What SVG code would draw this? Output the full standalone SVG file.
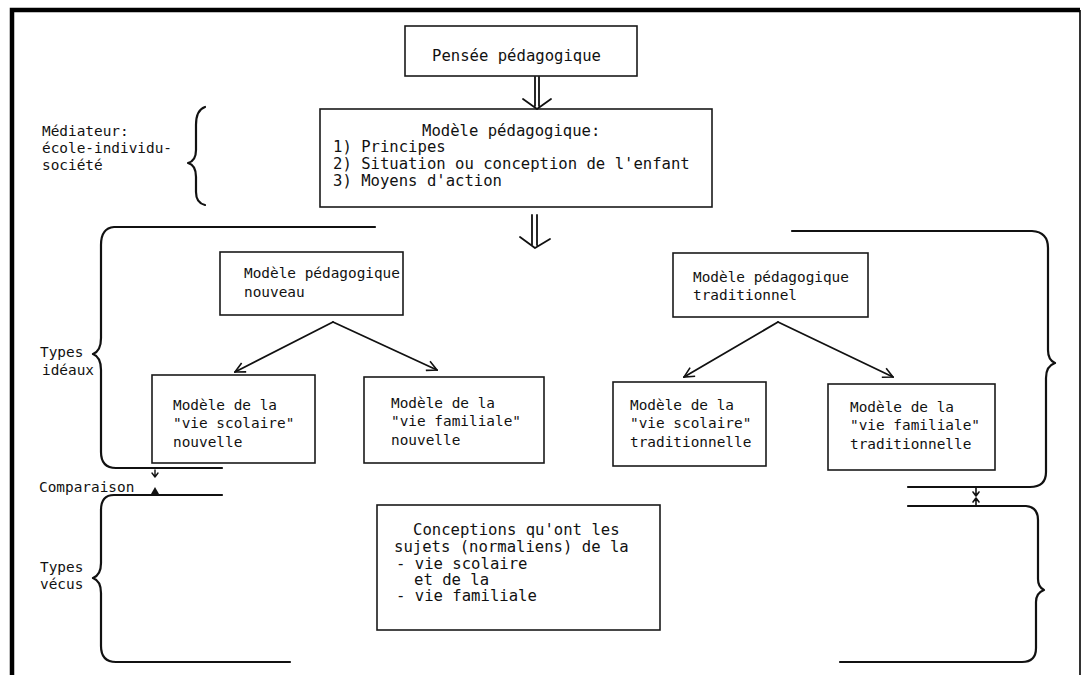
<svg xmlns="http://www.w3.org/2000/svg" width="1082" height="675" viewBox="0 0 1082 675">
<defs>
<style>
.box{fill:#fff;stroke:#1a1a1a;stroke-width:1.6}
.t{font-family:"DejaVu Sans Mono","Liberation Mono",monospace;fill:#111}
.big{font-size:15.6px}
.sm{font-size:14.4px}
.ln{fill:none;stroke:#111;stroke-width:1.8;stroke-linecap:round;stroke-linejoin:round}
.br{fill:none;stroke:#111;stroke-width:2.2;stroke-linecap:round;stroke-linejoin:round}
</style>
<marker id="open" viewBox="0 0 12 12" refX="11" refY="6" markerWidth="12" markerHeight="12" markerUnits="userSpaceOnUse" orient="auto">
<path d="M1,1 L11,6 L1,11" fill="none" stroke="#111" stroke-width="1.6"/>
</marker>
</defs>
<rect width="1082" height="675" fill="#fff"/>
<g id="frame">
<path d="M12,675 V10 H1080" fill="none" stroke="#000" stroke-width="4.5"/>
<line x1="1080" y1="10" x2="1080" y2="675" stroke="#000" stroke-width="1.6"/>
</g>

<g id="pensee">
<rect class="box" x="405" y="26" width="232" height="50"/>
<text class="t big" x="432" y="61">Pensée pédagogique</text>
</g>

<g id="modele">
<rect class="box" x="320" y="109" width="392" height="98"/>
<text class="t big" x="422" y="136">Modèle pédagogique:</text>
<text class="t big" x="333" y="152">1) Principes</text>
<text class="t big" x="333" y="169">2) Situation ou conception de l'enfant</text>
<text class="t big" x="333" y="186">3) Moyens d'action</text>
</g>

<g id="mediateur">
<text class="t sm" x="42" y="136">Médiateur:</text>
<text class="t sm" x="42" y="153">école-individu-</text>
<text class="t sm" x="42" y="170">société</text>
<path class="br" d="M205,107 Q196,110 196,125 V150 Q196,161 188,163 Q196,165 196,177 V192 Q196,203 205,205"/>
</g>

<g id="types-ideaux-label">
<text class="t sm" x="40" y="357">Types</text>
<text class="t sm" x="42" y="375">idéaux</text>
</g>

<g id="nouveau">
<rect class="box" x="220" y="252" width="183" height="63"/>
<text class="t sm" x="244" y="278">Modèle pédagogique</text>
<text class="t sm" x="244" y="297">nouveau</text>
</g>

<g id="scolaire-nouvelle">
<rect class="box" x="152" y="375" width="163" height="88"/>
<text class="t sm" x="173" y="410">Modèle de la</text>
<text class="t sm" x="173" y="428">"vie scolaire"</text>
<text class="t sm" x="173" y="447">nouvelle</text>
</g>

<g id="familiale-nouvelle">
<rect class="box" x="364" y="377" width="180" height="86"/>
<text class="t sm" x="391" y="408">Modèle de la</text>
<text class="t sm" x="391" y="426">"vie familiale"</text>
<text class="t sm" x="391" y="445">nouvelle</text>
</g>

<g id="traditionnel">
<rect class="box" x="673" y="253" width="195" height="64"/>
<text class="t sm" x="693" y="282">Modèle pédagogique</text>
<text class="t sm" x="693" y="300">traditionnel</text>
</g>

<g id="scolaire-trad">
<rect class="box" x="613" y="382" width="153" height="84"/>
<text class="t sm" x="630" y="410">Modèle de la</text>
<text class="t sm" x="630" y="428">"vie scolaire"</text>
<text class="t sm" x="630" y="447">traditionnelle</text>
</g>

<g id="familiale-trad">
<rect class="box" x="828" y="384" width="167" height="86"/>
<text class="t sm" x="850" y="412">Modèle de la</text>
<text class="t sm" x="850" y="430">"vie familiale"</text>
<text class="t sm" x="850" y="449">traditionnelle</text>
</g>

<g id="comparaison-label">
<text class="t sm" x="39" y="492">Comparaison</text>
</g>

<g id="types-vecus-label">
<text class="t sm" x="40" y="572">Types</text>
<text class="t sm" x="40" y="589">vécus</text>
</g>

<g id="conceptions">
<rect class="box" x="377" y="505" width="283" height="125"/>
<text class="t big" x="413" y="535">Conceptions qu'ont les</text>
<text class="t big" x="394" y="552">sujets (normaliens) de la</text>
<text class="t big" x="396" y="569">- vie scolaire</text>
<text class="t big" x="414" y="585">et de la</text>
<text class="t big" x="396" y="601">- vie familiale</text>
</g>

<g id="connectors">
<path class="ln" d="M535,77 V106 M539,77 V106 M523,99 L537,109 L551,99"/>
<path class="ln" d="M532,215 V245 M537,215 V245 M520,237 L535,248 L550,239"/>
<path class="ln" d="M333,322 L235,372" marker-end="url(#open)"/>
<path class="ln" d="M333,322 L437,370" marker-end="url(#open)"/>
<path class="ln" d="M778,322 L684,377" marker-end="url(#open)"/>
<path class="ln" d="M778,322 L893,377" marker-end="url(#open)"/>
<path class="br" d="M375,227 H114 Q101,228 101,245 V338 Q101,351 93,354 Q101,357 101,370 V452 Q101,468 116,468 H222"/>
<path class="br" d="M222,495 H114 Q101,495 101,510 V563 Q101,575 93,578 Q101,581 101,593 V646 Q101,662 116,662 H290"/>
<path class="br" d="M792,231 H1032 Q1048,232 1048,248 V350 Q1048,360 1055,363 Q1046,366 1046,378 V472 Q1046,487 1030,487 H908"/>
<path class="br" d="M908,506 H1026 Q1038,507 1038,520 V579 Q1038,587 1044,590 Q1036,593 1036,602 V648 Q1036,662 1022,662 H840"/>
<path class="ln" d="M155,470 V477 M152,473 L155,477 L158,473" style="stroke-width:1.4"/>
<path d="M155,487 L159,494 L151,494 Z" fill="#111"/>
<path class="ln" d="M976,488 V496 M973,492 L976,496 L979,492" style="stroke-width:1.6"/>
<path class="ln" d="M976,498 V506 M973,502 L976,498 L979,502" style="stroke-width:1.6"/>
</g>
</svg>
